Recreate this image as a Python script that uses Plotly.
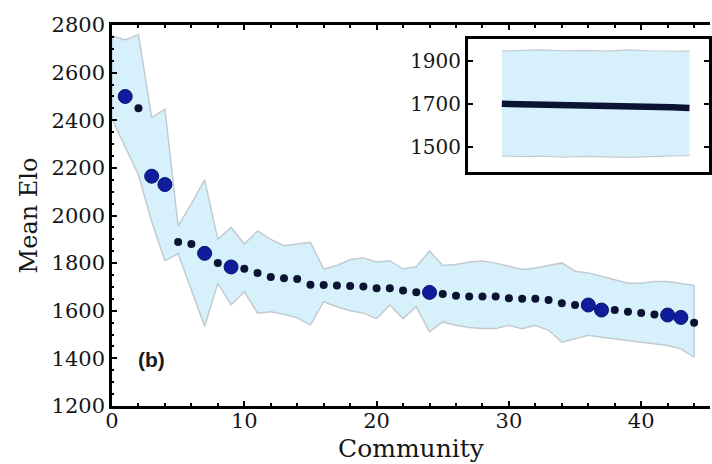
import plotly.graph_objects as go

# ---------------- data ----------------
community = list(range(1, 45))
mean_elo = [2500, 2450, 2165, 2130, 1889, 1880, 1841, 1801, 1784, 1776,
            1759, 1742, 1736, 1733, 1709, 1708, 1706, 1704, 1702, 1695,
            1695, 1685, 1678, 1677, 1670, 1663, 1660, 1660, 1660, 1652,
            1650, 1650, 1645, 1631, 1624, 1624, 1603, 1603, 1596, 1591,
            1584, 1582, 1572, 1550]
highlighted = [1, 3, 4, 7, 9, 24, 36, 37, 42, 43]

band_x = list(range(0, 45))
band_upper = [2755, 2737, 2760, 2411, 2446, 1955, 2050, 2150, 1900, 1950,
              1880, 1935, 1900, 1873, 1880, 1887, 1775, 1790, 1815, 1822,
              1805, 1810, 1775, 1785, 1851, 1790, 1794, 1805, 1809, 1800,
              1787, 1773, 1780, 1790, 1801, 1766, 1759, 1745, 1730, 1716,
              1716, 1723, 1723, 1716, 1706]
band_lower = [2405, 2290, 2170, 1975, 1810, 1840, 1690, 1535, 1715, 1625,
              1680, 1590, 1596, 1585, 1570, 1540, 1638, 1617, 1600, 1590,
              1567, 1624, 1567, 1617, 1511, 1553, 1539, 1530, 1525, 1525,
              1539, 1525, 1539, 1518, 1468, 1482, 1497, 1489, 1482, 1475,
              1468, 1461, 1454, 1440, 1405]

inset_x = [1, 5, 10, 15, 20, 25, 30, 35, 40, 44]
inset_mean = [1700, 1699, 1697, 1695, 1694, 1692, 1690, 1687, 1684, 1680]
inset_upper = [1945, 1947, 1950, 1946, 1948, 1944, 1950, 1946, 1945, 1944]
inset_lower = [1458, 1455, 1457, 1452, 1456, 1454, 1451, 1455, 1457, 1460]

x_ticks = [0, 10, 20, 30, 40]
y_ticks = [1200, 1400, 1600, 1800, 2000, 2200, 2400, 2600, 2800]
inset_ticks = [1500, 1700, 1900]

# ---------------- style ----------------
FILL = "#d6f1fc"
EDGE = "#c3cbd0"
NAVY = "#0b1232"
BLUE = "#0f1c9c"
SERIF = "DejaVu Serif"
TXT = "#161616"

fig = go.Figure()

# main band
fig.add_trace(go.Scatter(x=band_x, y=band_upper, mode="lines",
                         line=dict(color=EDGE, width=1.5), hoverinfo="skip",
                         showlegend=False))
fig.add_trace(go.Scatter(x=band_x, y=band_lower, mode="lines", fill="tonexty",
                         fillcolor=FILL, line=dict(color=EDGE, width=1.5),
                         hoverinfo="skip", showlegend=False))
fig.add_trace(go.Scatter(x=[band_x[0], band_x[0]], y=[band_lower[0], band_upper[0]],
                         mode="lines", line=dict(color=EDGE, width=1.5),
                         showlegend=False, hoverinfo="skip"))
fig.add_trace(go.Scatter(x=[band_x[-1], band_x[-1]], y=[band_lower[-1], band_upper[-1]],
                         mode="lines", line=dict(color=EDGE, width=1.5),
                         showlegend=False, hoverinfo="skip"))

small_x = [c for c in community if c not in highlighted]
small_y = [mean_elo[c - 1] for c in small_x]
big_y = [mean_elo[c - 1] for c in highlighted]
fig.add_trace(go.Scatter(x=small_x, y=small_y, mode="markers",
                         marker=dict(color=NAVY, size=8), showlegend=False))
fig.add_trace(go.Scatter(x=highlighted, y=big_y, mode="markers",
                         marker=dict(color=BLUE, size=14,
                                     line=dict(color="#0a1270", width=1)),
                         showlegend=False))

# inset
fig.add_trace(go.Scatter(x=inset_x, y=inset_upper, mode="lines",
                         line=dict(color=EDGE, width=1.2), xaxis="x2", yaxis="y2",
                         showlegend=False, hoverinfo="skip"))
fig.add_trace(go.Scatter(x=inset_x, y=inset_lower, mode="lines", fill="tonexty",
                         fillcolor=FILL, line=dict(color=EDGE, width=1.2),
                         xaxis="x2", yaxis="y2", showlegend=False, hoverinfo="skip"))
fig.add_trace(go.Scatter(x=inset_x, y=inset_mean, mode="lines",
                         line=dict(color=NAVY, width=6.5), xaxis="x2", yaxis="y2",
                         showlegend=False))

fig.add_annotation(x=3.0, y=1395, xref="x", yref="y", text="<b>(b)</b>",
                   showarrow=False, font=dict(family="Liberation Sans", size=21,
                                              color="#1a1a1a"))

axis_common = dict(showgrid=False, zeroline=False, ticks="inside",
                   tickcolor="black", linecolor="black", linewidth=2.5,
                   showline=True, automargin=False)

fig.update_layout(
    width=712, height=464,
    margin=dict(l=112, r=0, t=25, b=58),
    paper_bgcolor="white", plot_bgcolor="white",
    font=dict(family=SERIF, color=TXT),
    xaxis=dict(range=[0, 45.2], tickvals=x_ticks, ticklen=5, tickwidth=2,
               mirror="ticks", ticklabelstandoff=-6,
               minor=dict(ticks="inside", dtick=2, ticklen=3, tickcolor="black"),
               tickfont=dict(family=SERIF, size=21, color=TXT),
               title=dict(text="Community", font=dict(family=SERIF, size=25, color=TXT),
                          standoff=8),
               **axis_common),
    yaxis=dict(range=[1200, 2800], tickvals=y_ticks, ticklen=5, tickwidth=2,
               minor=dict(ticks="inside", dtick=50, ticklen=2, tickcolor="black"),
               tickfont=dict(family=SERIF, size=21, color=TXT),
               title=dict(text="Mean Elo", font=dict(family=SERIF, size=24, color=TXT),
                          standoff=8),
               **axis_common),
    xaxis2=dict(domain=[0.595, 0.9985], range=[-6.8, 48.5], anchor="y2",
                showticklabels=False, ticks="", mirror=True,
                showgrid=False, zeroline=False, showline=True,
                linecolor="black", linewidth=2.5),
    yaxis2=dict(domain=[0.615, 0.963], range=[1385, 2000], anchor="x2",
                tickvals=inset_ticks, ticks="inside", ticklen=5, tickwidth=2,
                tickcolor="black", mirror="ticks", showgrid=False,
                zeroline=False, showline=True, linecolor="black", linewidth=2.5,
                tickfont=dict(family=SERIF, size=20, color=TXT)),
)

fig.add_shape(type="rect", xref="x2 domain", yref="y2 domain", x0=0, x1=1, y0=0, y1=1,
              fillcolor="white", line=dict(width=0), layer="below")

fig.write_html("out.html", config={"displayModeBar": False},
               post_script="document.body.style.margin='0';document.body.style.overflow='hidden';")
